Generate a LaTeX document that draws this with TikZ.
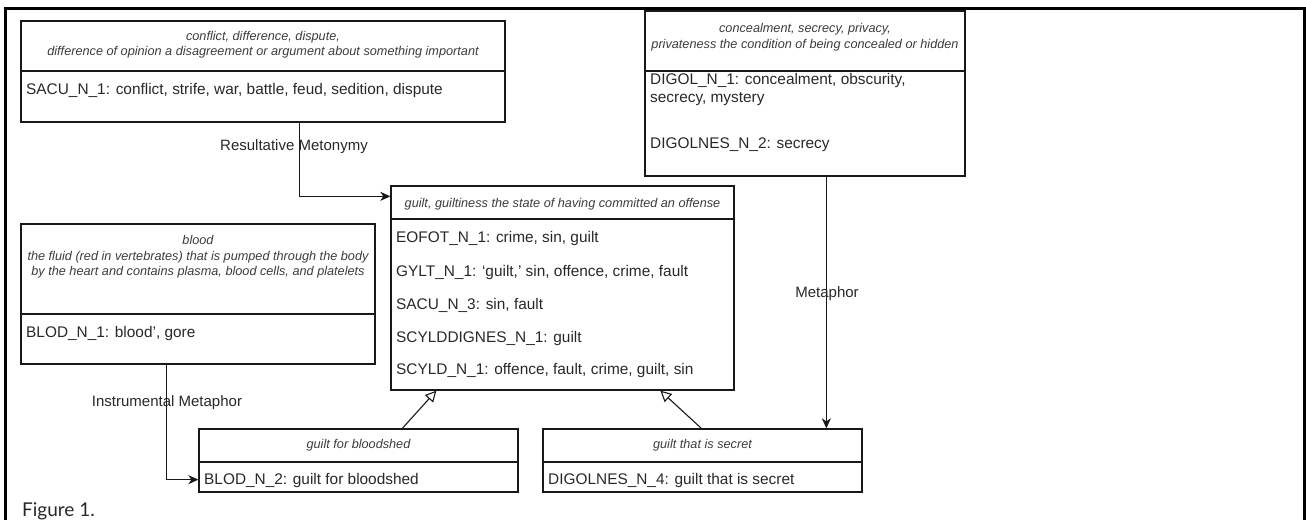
\documentclass[tikz,border=0pt]{standalone}
\usepackage{fontspec}
\setmainfont{Liberation Sans}
\newfontfamily\figfont{Lato}
\usetikzlibrary{arrows.meta,calc,fit}
\definecolor{txt}{RGB}{40,40,40}
\definecolor{hdr}{RGB}{60,60,60}
\definecolor{ln}{RGB}{25,25,25}
\begin{document}
\begin{tikzpicture}[x=1pt,y=-1pt,
 boxline/.style={draw=ln,line width=1.3pt},
 umlbox/.style={draw=ln,line width=1.3pt,inner sep=0pt,fit={#1}},
 body/.style={anchor=base west,font=\fontsize{15.4}{18.5}\selectfont,text=txt,inner sep=0pt},
 hd/.style={font=\fontsize{12.7}{15.5}\selectfont\itshape,text=hdr,align=center,inner sep=0pt},
 lbl/.style={font=\fontsize{15}{18}\selectfont,text=txt,inner sep=0pt},
 arr/.style={draw=ln,line width=1.3pt,-{Stealth[length=10pt,width=9pt,inset=3pt]}},
 gen/.style={draw=ln,line width=1.1pt,-{Triangle[open,length=11pt,width=11pt]}}
]
\useasboundingbox (0,0) rectangle (1306,520);
% outer frame
\draw[line width=3pt] (5,520) -- (5,8) -- (1304,8) -- (1304,520);

% conflict box
\node[umlbox={(21,21) (505,122)}] (conflict) {};
\draw[boxline] (conflict.west |- 0,71) -- (conflict.east |- 0,71);
\node[hd] (conflicthd) at (263,44.5) {conflict, difference, dispute,\\difference of opinion a disagreement or argument about something important};
\node[body] (sacu1) at (26,94.6) {SACU\_N\_1: conflict, strife, war, battle, feud, sedition, dispute};

% concealment box
\node[umlbox={(645,11) (965,176)}] (conceal) {};
\draw[boxline] (conceal.west |- 0,71) -- (conceal.east |- 0,71);
\node[hd] (concealhd) at (805,37) {concealment, secrecy, privacy,\\privateness the condition of being concealed or hidden};
\node[body] (digol1a) at (650,84.6) {DIGOL\_N\_1: concealment, obscurity,};
\node[body] (digol1b) at (650,102.6) {secrecy, mystery};
\node[body] (digolnes2) at (650,148.6) {DIGOLNES\_N\_2: secrecy};

% guilt box
\node[umlbox={(391,186) (734,390)}] (guilt) {};
\draw[boxline] (guilt.west |- 0,219) -- (guilt.east |- 0,219);
\node[hd,anchor=base] (guilthd) at (562.5,207.5) {guilt, guiltiness the state of having committed an offense};
\node[body] (eofot) at (396,242.6) {EOFOT\_N\_1: crime, sin, guilt};
\node[body] (gylt) at (396,276.6) {GYLT\_N\_1: ‘guilt,’ sin, offence, crime, fault};
\node[body] (sacu3) at (396,309.6) {SACU\_N\_3: sin, fault};
\node[body] (scylddig) at (396,342.6) {SCYLDDIGNES\_N\_1: guilt};
\node[body] (scyld) at (396,374.6) {SCYLD\_N\_1: offence, fault, crime, guilt, sin};

% blood box
\node[umlbox={(21,224) (375,364)}] (blood) {};
\draw[boxline] (blood.west |- 0,314) -- (blood.east |- 0,314);
\node[hd] (bloodhd) at (198,257) {blood\\the fluid (red in vertebrates) that is pumped through the body\\by the heart and contains plasma, blood cells, and platelets};
\node[body] (blod1) at (26,337.6) {BLOD\_N\_1: blood’, gore};

% guilt for bloodshed box
\node[umlbox={(199,429) (518,492)}] (bloodshed) {};
\draw[boxline] (bloodshed.west |- 0,462) -- (bloodshed.east |- 0,462);
\node[hd,anchor=base] (bloodshedhd) at (358.5,448.5) {guilt for bloodshed};
\node[body] (blod2) at (204,484.6) {BLOD\_N\_2: guilt for bloodshed};

% guilt that is secret box
\node[umlbox={(543,429) (862,492)}] (secret) {};
\draw[boxline] (secret.west |- 0,462) -- (secret.east |- 0,462);
\node[hd,anchor=base] (secrethd) at (702.5,448.5) {guilt that is secret};
\node[body] (digolnes4) at (548,484.6) {DIGOLNES\_N\_4: guilt that is secret};

% connectors
\draw[arr] ($(conflict.south west)+(279,0)$) |- ($(guilt.north west)+(0,11)$);
\node[lbl] (lres) at (294,147) {Resultative Metonymy};

\draw[arr] ($(conceal.south west)+(182,0)$) -- ($(secret.north west)+(284,0)$);
\node[lbl] (lmet) at (827,294) {Metaphor};

\draw[arr] ($(blood.south west)+(146,0)$) |- ($(bloodshed.south west)+(0,-13)$);
\node[lbl] (linst) at (167,403) {Instrumental Metaphor};

\draw[gen] ($(bloodshed.north west)+(204,0)$) -- ($(guilt.south west)+(46,0)$);
\draw[gen] ($(secret.north west)+(159,0)$) -- ($(guilt.south west)+(270,0)$);

% caption
\node[anchor=base west,font=\figfont\fontsize{19}{22}\selectfont,text=txt,inner sep=0pt] (fig) at (22,516) {Figure 1.};
\end{tikzpicture}
\end{document}
